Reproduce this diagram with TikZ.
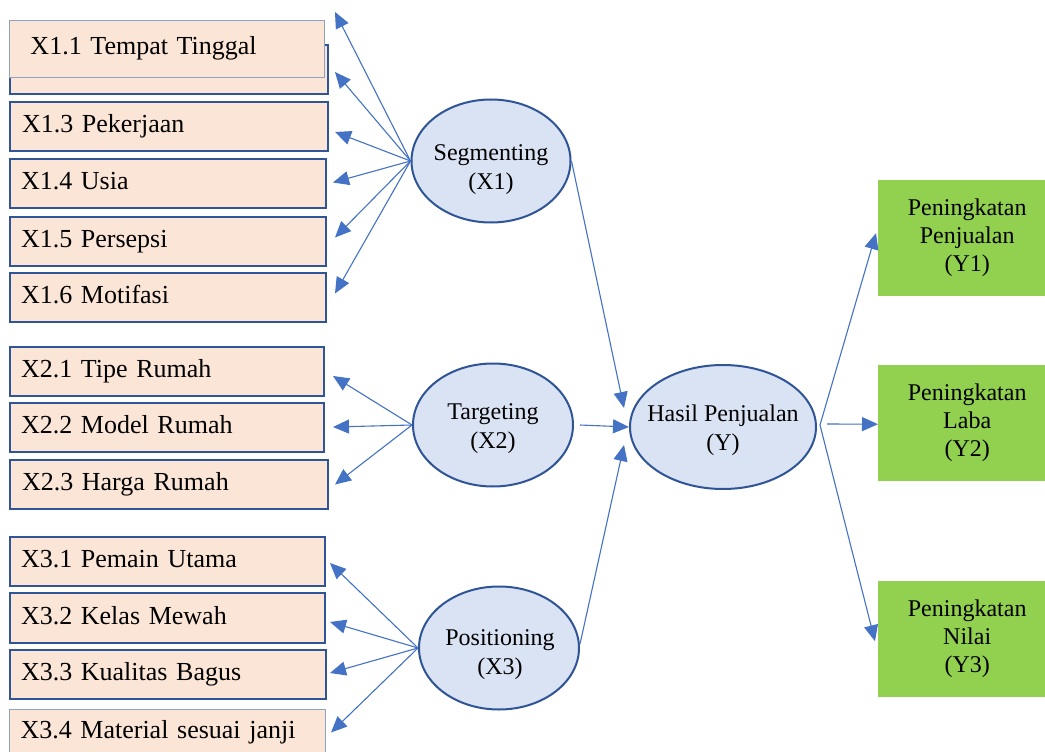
\documentclass[tikz,border=0pt]{standalone}
\usepackage{fontspec}
\setmainfont{Liberation Serif}
\usetikzlibrary{shapes.geometric,arrows.meta,calc}
\definecolor{boxfill}{HTML}{FBE5D6}
\definecolor{boxline}{HTML}{2F5597}
\definecolor{thinline}{HTML}{8EA2C2}
\definecolor{ellfill}{HTML}{DAE3F3}
\definecolor{grn}{HTML}{92D050}
\definecolor{arrc}{HTML}{4472C4}
\begin{document}
\begin{tikzpicture}[x=1pt,y=-1pt,
  ind/.style={draw=boxline, line width=2pt, fill=boxfill, anchor=north west,
    minimum height=49pt, align=left, inner xsep=12pt, inner ysep=0pt,
    font=\fontsize{26}{30}\selectfont},
  indthin/.style={ind, draw=thinline, line width=1pt},
  ell/.style={ellipse, draw=boxline, line width=2pt, fill=ellfill,
    minimum width=160pt, minimum height=123pt, inner sep=0pt},
  elltext/.style={align=center, inner sep=0pt, font=\fontsize{24}{29}\selectfont},
  grnbox/.style={fill=grn, anchor=north west, minimum width=178pt,
    minimum height=116pt, inner sep=0pt, align=center,
    font=\fontsize{24}{28}\selectfont},
  arr/.style={draw=arrc, line width=1.1pt, -{Triangle[length=16pt,width=14pt]}}
]
\clip (0,0) rectangle (1045,752);
\fill[white] (0,0) rectangle (1045,752);

% indicator boxes, X1
\node[ind, text width=294pt] (b12) at (9,44) {\strut};
\node[indthin, text width=273pt, inner xsep=21pt, minimum height=57pt] (b11) at (9,20) {\strut X1.1 Tempat Tinggal};
\node[ind, text width=294pt] (b13) at (9,101) {\strut X1.3 Pekerjaan};
\node[ind, text width=294pt, inner xsep=11pt] (b14) at (9,158) {\strut X1.4 Usia};
\node[ind, text width=294pt, inner xsep=11pt] (b15) at (9,216) {\strut X1.5 Persepsi};
\node[ind, text width=294pt, inner xsep=11pt] (b16) at (9,272) {\strut X1.6 Motifasi};
% X2
\node[ind, text width=292pt, inner xsep=11pt] (b21) at (9,346) {\strut X2.1 Tipe Rumah};
\node[ind, text width=292pt, inner xsep=11pt] (b22) at (9,402) {\strut X2.2 Model Rumah};
\node[ind, text width=294pt] (b23) at (9,459) {\strut X2.3 Harga Rumah};
% X3
\node[ind, text width=293pt, inner xsep=11pt] (b31) at (9,536) {\strut X3.1 Pemain Utama};
\node[ind, text width=293pt, inner xsep=11pt, minimum height=50pt] (b32) at (9,592) {\strut X3.2 Kelas Mewah};
\node[ind, text width=294pt, inner xsep=11pt] (b33) at (9,649) {\strut X3.3 Kualitas Bagus};
\node[indthin, text width=294pt, inner xsep=11pt, minimum height=46pt] (b34) at (9,709) {\strut X3.4 Material sesuai janji};

% latent variables
\node[ell, minimum width=159pt] (seg) at (491,161) {};
\node[ell] (tar) at (493,425) {};
\node[ell] (pos) at (499,648) {};
\node[ell, minimum width=186pt, minimum height=124pt] (has) at (723,427) {};
\node[elltext] (segt) at (491,170) {Segmenting\\(X1)};
\node[elltext] (tart) at (493,429) {Targeting\\(X2)};
\node[elltext] (post) at (500,655) {Positioning\\(X3)};
\node[elltext] (hast) at (723,430) {Hasil Penjualan\\(Y)};

% outcome boxes
\node[grnbox] (y1) at (878,180) {Peningkatan\\Penjualan\\(Y1)};
\node[grnbox] (y2) at (878,365) {Peningkatan\\Laba\\(Y2)};
\node[grnbox] (y3) at (878,581) {Peningkatan\\Nilai\\(Y3)};

% free arrow ends
\coordinate (t0) at (335,12);
\coordinate (e12) at ([shift={(6,2.5)}]b12.east);
\coordinate (e13) at ([shift={(6,5.5)}]b13.east);
\coordinate (e14) at ([shift={(6,-1)}]b14.east);
\coordinate (e15) at ([shift={(8,-4)}]b15.east);
\coordinate (e16) at ([shift={(8,-4)}]b16.east);
\coordinate (e21) at ([shift={(8,4.5)}]b21.east);
\coordinate (e22) at ([shift={(8,-0.5)}]b22.east);
\coordinate (e23) at ([shift={(6,0)}]b23.east);
\coordinate (e31) at ([shift={(4,1.5)}]b31.east);
\coordinate (e32) at ([shift={(4,4)}]b32.east);
\coordinate (e33) at ([shift={(3,-1.5)}]b33.east);
\coordinate (e34) at ([shift={(5,0)}]b34.east);

\foreach \e in {t0,e12,e13,e14,e15,e16} \draw[arr] (seg.west) -- (\e);
\foreach \e in {e21,e22,e23} \draw[arr] (tar.west) -- (\e);
\foreach \e in {e31,e32,e33,e34} \draw[arr] (pos.west) -- (\e);

% to Hasil Penjualan
\coordinate (h1) at ([shift={(-5,-19)}]has.west);
\coordinate (h3) at ([shift={(-5,18)}]has.west);
\draw[arr] (seg.east) -- (h1);
\draw[arr] ([xshift=6pt]tar.east) -- (has.west);
\draw[arr] ([yshift=4pt]pos.east) -- (h3);

% to outcomes
\coordinate (hs) at ([shift={(3,-2)}]has.east);
\draw[arr] (hs) -- ([shift={(-2,-5)}]y1.west);
\draw[arr] ([shift={(10,-3)}]has.east) -- ([yshift=-1pt]y2.west);
\draw[arr] (hs) -- ([shift={(-3,2)}]y3.west);
\end{tikzpicture}
\end{document}
